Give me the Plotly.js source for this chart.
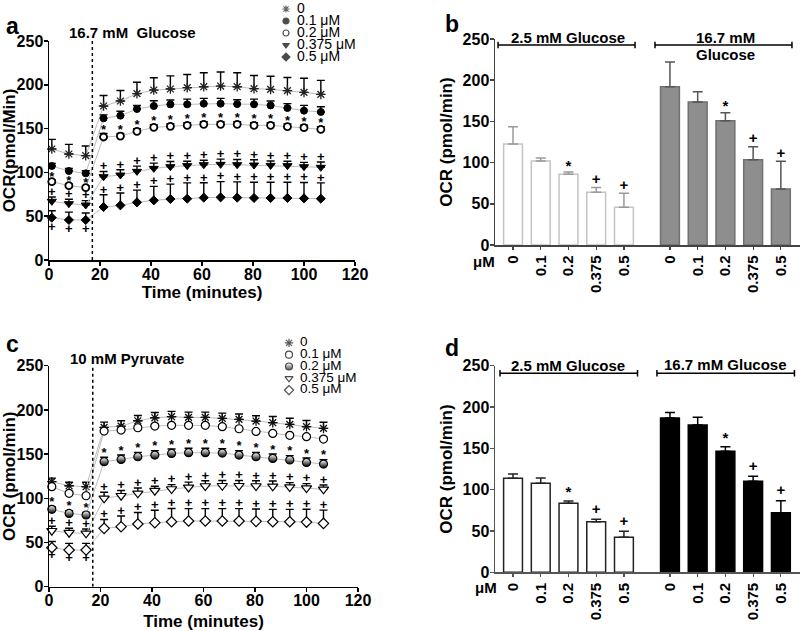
<!DOCTYPE html>
<html><head><meta charset="utf-8">
<script src="https://cdn.plot.ly/plotly-3.0.1.min.js"></script>
<style>html,body{margin:0;padding:0;background:#fff}#chart{width:800px;height:631px}</style>
</head><body><div id="chart"></div>
<script>
// ---------------- data ----------------
const timeMin = [1.1, 7.8, 14.4, 21.4, 28.0, 34.5, 41.1, 47.6, 54.2, 60.7, 67.3, 73.8, 80.4, 86.9, 93.5, 100.0, 106.6];
const injectionTime = 17;
const doseNames = ['0', '0.1 μM', '0.2 μM', '0.375 μM', '0.5 μM'];
const doseTicks = ['0', '0.1', '0.2', '0.375', '0.5'];

// panel a : 16.7 mM glucose time course
const a0      = [126.7,121.0,119.1,175.8,181.5,189.9,194.0,195.2,196.7,197.8,198.6,197.8,195.6,194.8,193.3,191.4,189.1];
const a0Err   = [11,11,11,12,12,13,14,15,15,16,16,16,15,15,15,16,16];
const a01     = [107.3,101.6,98.9,161.7,164.8,172.4,175.8,177.7,177.7,178.5,178.5,178.0,177.7,176.5,173.5,170.5,169.0];
const a01Err  = [3,3,3,4,5,4,6,5,6,6,6,5,6,5,5,6,6];
const a02     = [89.4,84.9,82.6,140.4,141.5,146.9,151.4,152.6,153.7,154.9,154.9,154.9,153.7,153.7,152.2,151.0,149.2];
const a02Err  = [2,2,2,4,3,3,3,3,3,3,3,3,3,3,3,3,3];
const a0375   = [67.0,64.3,62.8,95.1,97.0,101.2,104.6,106.5,107.7,108.8,109.2,108.8,108.4,108.0,107.7,106.5,105.8];
const a0375Err= [5,5,5,6,6,6,6,6,5,5,6,6,6,5,5,5,6];
const a05     = [48.3,45.7,45.7,60.5,62.4,65.8,68.1,69.6,70.0,71.2,71.5,71.2,70.8,70.8,70.8,70.4,70.0];
const a05Err  = [8,9,8,14,14,14,16,17,18,17,18,18,18,18,18,18,18];

// panel c : 10 mM pyruvate time course
const c0      = [118.8,114.2,113.1,180.2,181.7,187.7,191.1,192.3,191.5,191.5,190.4,189.3,187.4,185.5,183.6,181.0,179.1];
const c0Err   = [4,4,5,6,6,6,6,6,6,6,6,6,6,7,7,7,7];
const c01     = [113.1,105.6,102.9,176.0,177.2,179.8,181.7,182.5,182.5,182.5,181.0,178.7,175.7,173.4,171.2,169.7,167.0];
const c01Err  = [2,2,2,2,2,2,2,2,2,2,2,2,2,2,2,2,2];
const c02     = [87.5,82.9,81.1,141.4,144.0,147.0,148.9,150.8,151.6,151.6,151.2,148.9,147.0,145.1,143.3,140.6,138.7];
const c02Err  = [3,3,3,5,5,5,5,5,5,5,5,5,5,5,5,5,5];
const c0375   = [63.3,61.1,60.3,99.9,102.9,105.6,108.6,110.5,112.3,113.9,114.2,114.2,113.9,113.5,112.7,111.6,110.1];
const c0375Err= [5,5,5,7,6,6,5,5,6,6,6,6,6,6,5,5,5];
const c05     = [44.1,41.5,41.5,66.0,67.9,70.9,72.4,73.5,74.3,74.3,74.3,74.3,73.9,73.5,73.5,73.1,71.6];
const c05Err  = [7,7.5,7.5,10,12,13,14,15,14,14,14,14,14,14,14,14.5,15];

// significance marks on the time courses (same pattern in a and c)
const sig02   = '*****************'.split('');
const sig0375 = '+++++++++++++++++'.split('');
const sig05   = '+++++++++++++++++'.split('');

// panel b : averaged OCR, white = 2.5 mM, grey = 16.7 mM glucose
const bLow     = [122.6, 101.9, 85.8, 63.9, 45.7];
const bLowErr  = [21, 3.7, 2.8, 6, 17];
const bHigh    = [192.1, 173.5, 150.9, 103.6, 68.0];
const bHighErr = [30, 12.6, 9.7, 15.7, 33.5];
// panel d
const dLow     = [113.7, 107.7, 83.5, 61.3, 42.3];
const dLowErr  = [5.2, 6.4, 2.8, 2.8, 7.3];
const dHigh    = [186.7, 178.2, 146.4, 110.1, 72.2];
const dHighErr = [6.8, 9.3, 5.6, 6.0, 14.5];
const barSig   = ['', '', '*', '+', '+'];

// ---------------- styling / helpers ----------------
const FONT = 'Liberation Sans, Arial, Helvetica, sans-serif';
const W = 800, H = 631;
const px = v => v / W;
const py = v => 1 - v / H;
const bold = (size, color) => ({family: FONT, size: size, color: color || '#000000', weight: 'bold'});
const zeros = n => new Array(n).fill(0);
const LINE_GREY = '#bdbdbd';
const groupGap = 5.66;   // position offset of the second bar group

function lineSeries(y, err, marker, xa, ya) {
  return {
    type: 'scatter', mode: 'lines+markers', x: timeMin, y: y,
    xaxis: xa, yaxis: ya, cliponaxis: false, hoverinfo: 'skip',
    line: {color: LINE_GREY, width: 1},
    marker: marker,
    error_y: {type: 'data', symmetric: false, array: err, arrayminus: zeros(err.length),
              color: '#000', thickness: 1.4, width: 4}
  };
}
function sigLine(y, err, marks, xa, ya, offStar, offPlus, belowPre) {
  const ys = y.map((v, i) => {
    if (belowPre && timeMin[i] < injectionTime) return v - belowPre;
    return v + err[i] + (marks[i] === '*' ? offStar : offPlus);
  });
  return {type: 'scatter', mode: 'text', x: timeMin, y: ys, text: marks,
          textposition: 'middle center', textfont: bold(13, '#000000'), xaxis: xa, yaxis: ya,
          cliponaxis: false, hoverinfo: 'skip'};
}
function barTrace(x, y, err, fill, lineCol, errCol, xa, ya) {
  return {type: 'bar', x: x, y: y, xaxis: xa, yaxis: ya, width: 0.68,
          marker: {color: fill, line: {color: lineCol, width: 1.5}}, hoverinfo: 'skip',
          error_y: {type: 'data', symmetric: false, array: err, arrayminus: zeros(err.length),
                    color: errCol, thickness: 1.5, width: 5}};
}
function barSigTrace(x, y, err, xa, ya, offStar, offPlus) {
  return {type: 'scatter', mode: 'text', x: x,
          y: y.map((v, i) => v + err[i] + (barSig[i] === '*' ? offStar : offPlus)),
          text: barSig, textposition: 'middle center', textfont: bold(15, '#000000'),
          xaxis: xa, yaxis: ya, cliponaxis: false, hoverinfo: 'skip'};
}
function legendTraces(markers, xa, ya, fontSize) {
  const idx = doseNames.map((_, i) => i);
  return [
    {type: 'scatter', mode: 'markers', x: zeros(5), y: idx, xaxis: xa, yaxis: ya, cliponaxis: false,
     hoverinfo: 'skip',
     marker: {symbol: markers.map(m => m.symbol), size: markers.map(m => m.lsize),
              color: markers.map(m => m.color), line: {color: '#000', width: 1.2},
              gradient: {type: markers.map(m => m.grad || 'none'), color: '#000'}}},
    {type: 'scatter', mode: 'text', x: idx.map(() => 11), y: idx, text: doseNames,
     textposition: 'middle right', textfont: {family: FONT, size: fontSize, color: '#000'},
     xaxis: xa, yaxis: ya, cliponaxis: false, hoverinfo: 'skip'}
  ];
}

// marker styles
const mkA = [
  {symbol: 'asterisk-open', size: 8, color: '#222', line: {color: '#222', width: 1.3}, lsize: 6},
  {symbol: 'circle', size: 7, color: '#000', line: {color: '#000', width: 1}, lsize: 6},
  {symbol: 'circle', size: 7, color: '#fff', line: {color: '#000', width: 1.8}, lsize: 6},
  {symbol: 'triangle-down', size: 8, color: '#000', line: {color: '#000', width: 1}, lsize: 6},
  {symbol: 'diamond', size: 7, color: '#000', line: {color: '#000', width: 1}, lsize: 6}
];
const mkC = [
  {symbol: 'asterisk-open', size: 8, color: '#111', line: {color: '#111', width: 1.3}, lsize: 7},
  {symbol: 'circle', size: 8, color: '#fff', line: {color: '#000', width: 1.2}, lsize: 7},
  {symbol: 'circle', size: 8, color: '#fff', line: {color: '#000', width: 1.2}, gradient: {type: 'vertical', color: '#000'}, grad: 'vertical', lsize: 7},
  {symbol: 'triangle-down', size: 9, color: '#fff', line: {color: '#000', width: 1.2}, lsize: 7},
  {symbol: 'diamond', size: 8, color: '#fff', line: {color: '#000', width: 1.2}, lsize: 7}
];
const markerOf = m => { const o = {symbol: m.symbol, size: m.size, color: m.color, line: m.line}; if (m.gradient) o.gradient = m.gradient; return o; };

// bar positions
const posLow = doseTicks.map((_, i) => i);
const posHigh = doseTicks.map((_, i) => i + groupGap);

const traces = [];
// panel a
[[a0,a0Err],[a01,a01Err],[a02,a02Err],[a0375,a0375Err],[a05,a05Err]].forEach((s, k) =>
  traces.push(lineSeries(s[0], s[1], markerOf(mkA[k]), 'x', 'y')));
traces.push(sigLine(a02, a02Err, sig02, 'x', 'y', 3, 5, 0));
traces.push(sigLine(a0375, a0375Err, sig0375, 'x', 'y', 3, 5, 0));
traces.push(sigLine(a05, a05Err, sig05, 'x', 'y', 3, 5, 11));
// panel c
[[c0,c0Err],[c01,c01Err],[c02,c02Err],[c0375,c0375Err],[c05,c05Err]].forEach((s, k) =>
  traces.push(lineSeries(s[0], s[1], markerOf(mkC[k]), 'x3', 'y3')));
traces.push(sigLine(c02, c02Err, sig02, 'x3', 'y3', 4, 5, 0));
traces.push(sigLine(c0375, c0375Err, sig0375, 'x3', 'y3', 4, 5, 0));
traces.push(sigLine(c05, c05Err, sig05, 'x3', 'y3', 4, 5, 9.5));
// panel b
traces.push(barTrace(posLow, bLow, bLowErr, '#fff', '#c4c4c4', '#9a9a9a', 'x2', 'y2'));
traces.push(barTrace(posHigh, bHigh, bHighErr, '#8e8e8e', '#707070', '#555', 'x2', 'y2'));
traces.push(barSigTrace(posLow, bLow, bLowErr, 'x2', 'y2', 6, 9));
traces.push(barSigTrace(posHigh, bHigh, bHighErr, 'x2', 'y2', 6, 9));
// panel d
traces.push(barTrace(posLow, dLow, dLowErr, '#fff', '#222', '#222', 'x4', 'y4'));
traces.push(barTrace(posHigh, dHigh, dHighErr, '#000', '#000', '#000', 'x4', 'y4'));
traces.push(barSigTrace(posLow, dLow, dLowErr, 'x4', 'y4', 9, 11));
traces.push(barSigTrace(posHigh, dHigh, dHighErr, 'x4', 'y4', 9, 11));
// legends
legendTraces(mkA, 'x5', 'y5', 14).forEach(t => traces.push(t));
legendTraces(mkC, 'x6', 'y6', 13.5).forEach(t => traces.push(t));

// ---------------- axes ----------------
function valAxis(domain, anchor, title, lineColor, standoff) {
  return {domain: domain, anchor: anchor, range: [0, 250], dtick: 50, tick0: 0,
          showline: true, linecolor: lineColor, linewidth: 1.5, ticks: 'outside', ticklen: 4,
          tickwidth: 1.5, tickcolor: lineColor, tickfont: bold(16), ticklabelstandoff: -3,
          showgrid: false, zeroline: false,
          fixedrange: true, title: {text: title, font: bold(17), standoff: standoff}};
}
function timeAxis(domain, anchor, standoff) {
  return {domain: domain, anchor: anchor, range: [0, 120], dtick: 20, tick0: 0,
          showline: true, linecolor: '#000', linewidth: 1.5, ticks: 'outside', ticklen: 4,
          tickwidth: 1.5, tickcolor: '#000', tickfont: bold(16), ticklabelstandoff: -5,
          showgrid: false, zeroline: false,
          fixedrange: true, title: {text: 'Time (minutes)', font: bold(17), standoff: standoff}};
}
function doseAxis(domain, anchor, lineColor) {
  return {domain: domain, anchor: anchor, range: [-0.65, 10.35],
          tickmode: 'array', tickvals: posLow.concat(posHigh), ticktext: doseTicks.concat(doseTicks),
          tickangle: -90, showline: true, linecolor: lineColor, linewidth: 1.5, ticks: 'outside',
          ticklen: 3, tickwidth: 1.2, tickcolor: lineColor, tickfont: bold(15),
          showgrid: false, zeroline: false, fixedrange: true};
}
const hiddenAxis = (domain, anchor, range) => ({domain: domain, anchor: anchor, range: range,
  visible: false, fixedrange: true, showgrid: false, zeroline: false});

// brackets for bar group labels
function bracket(xref, yref, x0, x1, y) {
  const s = {type: 'line', xref: xref, yref: yref, line: {color: '#000', width: 1.5}};
  return [Object.assign({}, s, {x0: x0, x1: x1, y0: y, y1: y}),
          Object.assign({}, s, {x0: x0, x1: x0, y0: y - 4, y1: y + 4}),
          Object.assign({}, s, {x0: x1, x1: x1, y0: y - 4, y1: y + 4})];
}
const shapes = [
  {type: 'line', xref: 'x', yref: 'y', x0: injectionTime, x1: injectionTime, y0: 0, y1: 250,
   line: {color: '#000', width: 1.5, dash: 'dot'}},
  {type: 'line', xref: 'x3', yref: 'y3', x0: injectionTime, x1: injectionTime, y0: 0, y1: 250,
   line: {color: '#000', width: 1.5, dash: 'dot'}}
].concat(
  bracket('x2', 'y2', posLow[0] - 0.54, posLow[4] + 0.40, 242.7),
  bracket('x2', 'y2', posHigh[0] - 0.54, posHigh[4] + 0.40, 242.7),
  bracket('x4', 'y4', posLow[0] - 0.47, posLow[4] + 0.49, 240.8),
  bracket('x4', 'y4', posHigh[0] - 0.47, posHigh[4] + 0.49, 240.8)
);

const ann = (x, y, text, font, extra) => Object.assign({x: x, y: y, xref: 'paper', yref: 'paper',
  text: text, showarrow: false, font: font, xanchor: 'center', yanchor: 'middle'}, extra || {});
const midLow = (posLow[0] + posLow[4]) / 2, midHigh = (posHigh[0] + posHigh[4]) / 2;
const annotations = [
  ann(px(4), py(26), 'a', bold(23), {xanchor: 'left'}),
  ann(px(443), py(24), 'b', bold(23), {xanchor: 'left'}),
  ann(px(4), py(344), 'c', bold(23), {xanchor: 'left'}),
  ann(px(443), py(348), 'd', bold(23), {xanchor: 'left'}),
  ann(px(67), py(32), '16.7 mM  Glucose', bold(15), {xanchor: 'left'}),
  ann(px(68), py(358), '10 mM Pyruvate', bold(15), {xanchor: 'left'}),
  ann(midLow, py(38), '2.5 mM Glucose', bold(15), {xref: 'x2'}),
  ann(midHigh, py(38), '16.7 mM', bold(15), {xref: 'x2'}),
  ann(midHigh, py(55), 'Glucose', bold(15), {xref: 'x2'}),
  ann(midLow, py(365), '2.5 mM Glucose', bold(15), {xref: 'x4'}),
  ann(midHigh, py(364), '16.7 mM Glucose', bold(15), {xref: 'x4'}),
  ann(px(484), py(261), 'μM', bold(15)),
  ann(px(486), py(587), 'μM', bold(15))
];

const layout = {
  width: W, height: H, margin: {l: 0, r: 0, t: 0, b: 0},
  paper_bgcolor: '#fff', plot_bgcolor: 'rgba(0,0,0,0)', showlegend: false,
  font: {family: FONT, color: '#000'},
  xaxis: timeAxis([px(49), px(355)], 'y', 2),
  yaxis: valAxis([py(260), py(41)], 'x', 'OCR(pmol/Min)', '#000', 1),
  xaxis2: doseAxis([px(495), 1], 'y2', '#444'),
  yaxis2: valAxis([py(245), py(39)], 'x2', 'OCR (pmol/min)', '#444', 5),
  xaxis3: timeAxis([px(49), px(358)], 'y3', 9),
  yaxis3: valAxis([py(586.7), py(365.7)], 'x3', 'OCR (pmol/min)', '#000', 1),
  xaxis4: doseAxis([px(495), 1], 'y4', '#555'),
  yaxis4: valAxis([py(572.3), py(365.7)], 'x4', 'OCR (pmol/min)', '#555', 5),
  xaxis5: hiddenAxis([px(286), px(386)], 'y5', [0, 100]),
  yaxis5: hiddenAxis([py(63), py(3)], 'x5', [4.5, -0.5]),
  xaxis6: hiddenAxis([px(289), px(389)], 'y6', [0, 100]),
  yaxis6: hiddenAxis([py(396), py(337)], 'x6', [4.5, -0.5]),
  shapes: shapes,
  annotations: annotations
};

Plotly.newPlot('chart', traces, layout, {staticPlot: true, displayModeBar: false});
</script>
</body></html>
